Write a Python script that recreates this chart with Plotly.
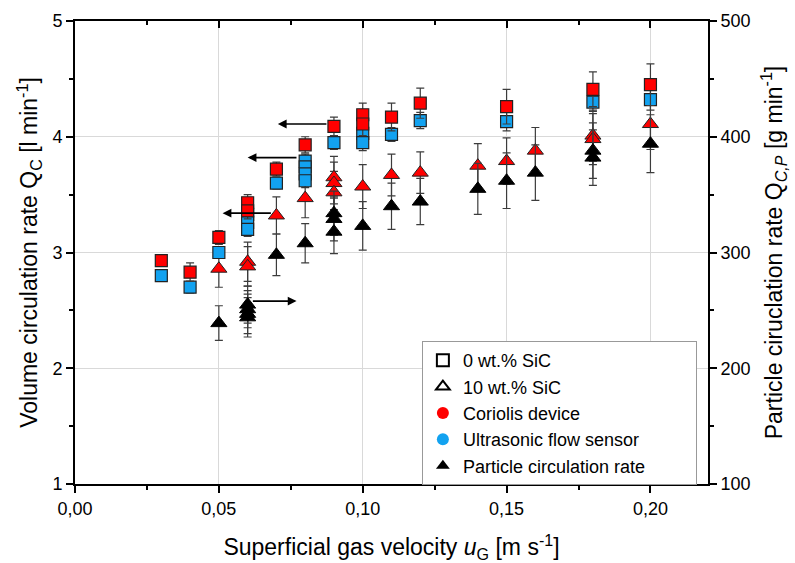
import plotly.graph_objects as go

# ---------------- data ----------------
# 0 wt.% SiC, Coriolis device  [l/min]
cor0_x = [0.03, 0.04, 0.05, 0.06, 0.06, 0.07, 0.08, 0.09, 0.10, 0.10, 0.11, 0.12, 0.15, 0.18, 0.20]
cor0_y = [2.93, 2.83, 3.13, 3.43, 3.36, 3.72, 3.93, 4.09, 4.19, 4.11, 4.17, 4.29, 4.26, 4.41, 4.45]
cor0_e = [0.05, 0.08, 0.06, 0.07, 0.07, 0.06, 0.07, 0.08, 0.10, 0.10, 0.12, 0.13, 0.15, 0.15, 0.18]

# 0 wt.% SiC, ultrasonic flow sensor [l/min]
us0_x = [0.03, 0.04, 0.05, 0.06, 0.06, 0.06, 0.07, 0.08, 0.08, 0.08, 0.08, 0.09, 0.10, 0.10, 0.11, 0.12, 0.15, 0.18, 0.20]
us0_y = [2.80, 2.70, 3.00, 3.33, 3.26, 3.20, 3.60, 3.79, 3.74, 3.68, 3.62, 3.95, 4.03, 3.95, 4.02, 4.14, 4.13, 4.30, 4.32]
us0_e = [0.04, 0.05, 0.05, 0.06, 0.06, 0.06, 0.05, 0.06, 0.06, 0.06, 0.06, 0.06, 0.07, 0.07, 0.06, 0.07, 0.08, 0.08, 0.09]

# 10 wt.% SiC, Coriolis device [l/min]
cor10_x = [0.05, 0.06, 0.06, 0.07, 0.08, 0.09, 0.09, 0.09, 0.10, 0.11, 0.12, 0.14, 0.15, 0.16, 0.18, 0.18, 0.20]
cor10_y = [2.86, 2.92, 2.88, 3.32, 3.47, 3.65, 3.60, 3.52, 3.57, 3.67, 3.69, 3.75, 3.79, 3.88, 4.01, 3.98, 4.11]
cor10_e = [0.16, 0.17, 0.17, 0.16, 0.17, 0.18, 0.18, 0.18, 0.19, 0.18, 0.18, 0.19, 0.20, 0.20, 0.22, 0.22, 0.22]

# 10 wt.% SiC, particle circulation rate [g/min]
part_x = [0.05, 0.06, 0.06, 0.06, 0.06, 0.07, 0.08, 0.09, 0.09, 0.09, 0.10, 0.11, 0.12, 0.14, 0.15, 0.16, 0.18, 0.18, 0.20]
part_y = [239, 255, 251, 247, 244, 298, 308, 334, 329, 318, 323, 340, 344, 355, 362, 369, 388, 382, 394]
part_e = [15, 16, 16, 17, 17, 18, 17, 19, 19, 19, 21, 20, 20, 22, 24, 24, 24, 24, 25]

# arrows indicating the axis of each data group (tail -> head)
arrow_tail_x = [0.0879, 0.0775, 0.0686, 0.0613]
arrow_head_x = [0.0705, 0.0600, 0.0513, 0.0770]
arrow_y = [4.11, 3.82, 3.34, 2.58]

legend_labels = ["0 wt.% SiC", "10 wt.% SiC", "Coriolis device",
                 "Ultrasonic flow sensor", "Particle circulation rate"]

RED = "#FF0000"
BLUE = "#12A2F0"
FONT = "Liberation Sans, Arial, sans-serif"
ERRC = "#3c3c3c"

fig = go.Figure()

def err(vals):
    return dict(type="data", array=vals, visible=True, color=ERRC, thickness=1.2, width=4)

fig.add_trace(go.Scatter(x=cor10_x, y=cor10_y, mode="markers", error_y=err(cor10_e),
                         marker=dict(symbol="triangle-up", size=14, color=RED,
                                     line=dict(color="#222", width=1)),
                         showlegend=False, hoverinfo="skip"))
fig.add_trace(go.Scatter(x=part_x, y=part_y, mode="markers", yaxis="y2", error_y=err(part_e),
                         marker=dict(symbol="triangle-up", size=14, color="black",
                                     line=dict(color="black", width=1)),
                         showlegend=False, hoverinfo="skip"))
fig.add_trace(go.Scatter(x=us0_x, y=us0_y, mode="markers", error_y=err(us0_e),
                         marker=dict(symbol="square", size=12, color=BLUE,
                                     line=dict(color="#222", width=1.2)),
                         showlegend=False, hoverinfo="skip"))
fig.add_trace(go.Scatter(x=cor0_x, y=cor0_y, mode="markers", error_y=err(cor0_e),
                         marker=dict(symbol="square", size=12, color=RED,
                                     line=dict(color="#222", width=1.2)),
                         showlegend=False, hoverinfo="skip"))

# dummy trace for top axis
fig.add_trace(go.Scatter(x=[None], y=[None], xaxis="x2", showlegend=False, hoverinfo="skip"))

# legend entries
leg_styles = [
    dict(symbol="square-open", size=12, color="black", line=dict(width=1.2)),
    dict(symbol="triangle-up-open", size=13, color="black", line=dict(width=1.2)),
    dict(symbol="circle", size=13, color=RED),
    dict(symbol="circle", size=13, color=BLUE),
    dict(symbol="triangle-up", size=13, color="black"),
]
PAD = "\u00a0" * 9
for i, (lab, st) in enumerate(zip(legend_labels, leg_styles)):
    name = lab + (PAD if i == len(legend_labels) - 1 else "")
    fig.add_trace(go.Scatter(x=[None], y=[None], mode="markers", name=name, marker=st))

for tx, hx, yy in zip(arrow_tail_x, arrow_head_x, arrow_y):
    fig.add_annotation(x=hx, y=yy, ax=tx, ay=yy, xref="x", yref="y", axref="x", ayref="y",
                       showarrow=True, arrowhead=2, arrowsize=1.1, arrowwidth=1.6,
                       arrowcolor="black", text="")

axis_common = dict(showline=True, linecolor="black", linewidth=2, ticks="outside",
                   tickcolor="black", tickwidth=2, ticklen=7, automargin=False,
                   tickfont=dict(family=FONT, size=18, color="black"), zeroline=False)

fig.update_layout(
    width=795, height=563,
    margin=dict(l=75, r=87, t=21, b=79),
    paper_bgcolor="white", plot_bgcolor="white",
    separators=", ",
    font=dict(family=FONT, color="black"),
    xaxis=dict(range=[0, 0.22], dtick=0.05, tick0=0, tickformat=".2f",
               showgrid=True, gridcolor="#d9d9d9", gridwidth=1,
               minor=dict(dtick=0.025, tick0=0, ticks="outside", ticklen=4,
                          tickcolor="black", tickwidth=2, showgrid=False),
               title=dict(text="Superficial gas velocity <i>u</i><sub>G</sub> [m s<sup>-1</sup>]",
                          font=dict(family=FONT, size=23), standoff=22),
               **axis_common),
    xaxis2=dict(range=[0, 0.22], overlaying="x", side="top", showline=True, linecolor="black",
                linewidth=2, ticks="inside", tickcolor="black", tickwidth=2, ticklen=7,
                dtick=0.05, tick0=0, showticklabels=False, showgrid=False, zeroline=False,
                automargin=False,
                minor=dict(dtick=0.025, tick0=0, ticks="inside", ticklen=4,
                           tickcolor="black", tickwidth=2)),
    yaxis=dict(range=[1, 5], dtick=1, showgrid=True, gridcolor="#d9d9d9", gridwidth=1,
               minor=dict(dtick=0.5, tick0=1, ticks="outside", ticklen=4,
                          tickcolor="black", tickwidth=2, showgrid=False),
               title=dict(text="Volume circulation rate Q<sub>C</sub> [l min<sup>-1</sup>]",
                          font=dict(family=FONT, size=23), standoff=8),
               **axis_common),
    yaxis2=dict(range=[100, 500], dtick=100, overlaying="y", side="right", showgrid=False,
                minor=dict(dtick=50, tick0=100, ticks="outside", ticklen=4,
                           tickcolor="black", tickwidth=2),
                title=dict(text="Particle ciruclation rate Q<sub><i>C,P</i></sub> [g min<sup>-1</sup>]",
                           font=dict(family=FONT, size=23), standoff=16),
                **axis_common),
    legend=dict(x=0.548, y=0.309, xanchor="left", yanchor="top",
                bgcolor="white", bordercolor="#999", borderwidth=1,
                font=dict(family=FONT, size=18, color="black"),
                itemsizing="constant", tracegroupgap=0),
)

fig.write_html("out.html", post_script="document.body.style.margin='0';",
               config={"displayModeBar": False})
